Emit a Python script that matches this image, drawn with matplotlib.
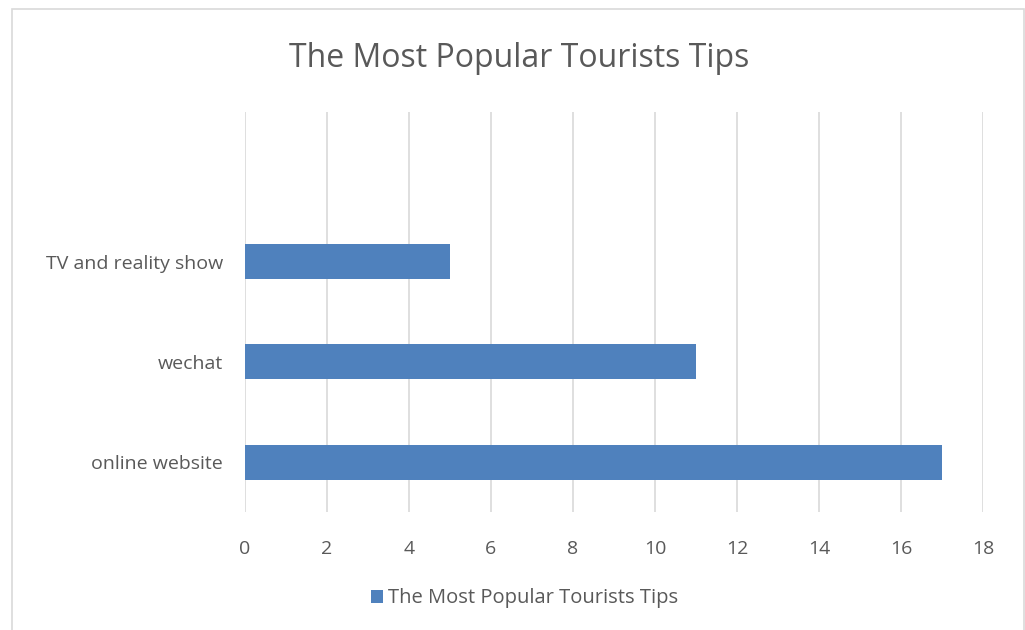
import matplotlib.pyplot as plt
from matplotlib.patches import Rectangle

categories = ['online website', 'wechat', 'TV and reality show', '']
values = [17, 11, 5, 0]
series_name = 'The Most Popular Tourists Tips'
xticks = [0, 2, 4, 6, 8, 10, 12, 14, 16, 18]

plt.rcParams['font.family'] = ['Open Sans', 'DejaVu Sans']
txt = '#595959'

fig = plt.figure(figsize=(10.25, 6.3), dpi=100)
ax = fig.add_axes([0.239, 0.187, 0.72, 0.636])

ypos = list(range(len(categories)))
ax.barh(ypos, values, height=0.35, color='#4F81BD', label=series_name, zorder=3)

ax.set_xlim(0, 18)
ax.set_ylim(-0.5, len(categories) - 0.5)
ax.set_xticks(xticks)
ax.set_yticks(ypos)
ax.set_yticklabels(categories)
ax.grid(axis='x', color='#D9D9D9', linewidth=1.2, zorder=0)
for s in ax.spines.values():
    s.set_visible(False)
ax.tick_params(axis='both', length=0, labelsize=14, colors=txt)
ax.tick_params(axis='x', pad=20)
ax.tick_params(axis='y', pad=16)

fig.text(0.507, 0.907, series_name, ha='center', va='center', fontsize=23, color=txt)

leg = fig.legend(loc='center', bbox_to_anchor=(0.512, 0.05), frameon=False,
                 fontsize=14.5, handlelength=0.6, handleheight=0.6, handletextpad=0.25)
for t in leg.get_texts():
    t.set_color(txt)

fig.patches.append(Rectangle((0.012, -0.01), 0.987, 0.995, transform=fig.transFigure,
                             fill=False, edgecolor='#D9D9D9', linewidth=1.2))

fig.savefig('out.png', dpi=100)
